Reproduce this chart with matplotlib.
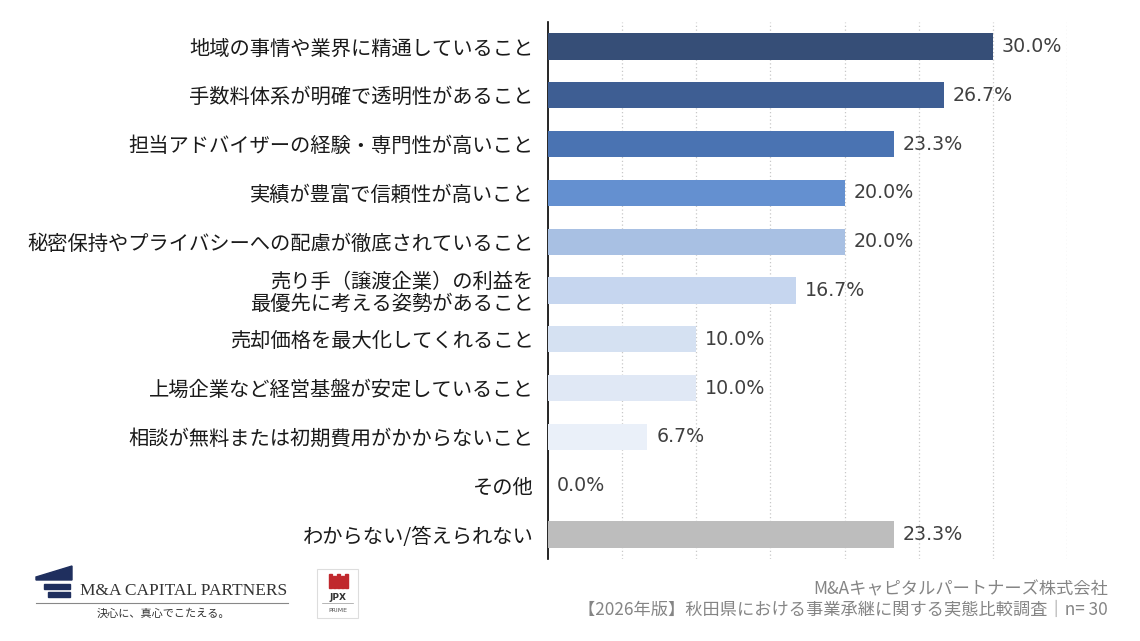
import matplotlib.pyplot as plt
import matplotlib.patches as mpatches
import numpy as np

plt.rcParams["font.family"] = ["Noto Sans CJK JP", "DejaVu Sans"]

# ── Data ───────────────────────────────────────────────────────────────────
categories = [
    "地域の事情や業界に精通していること",
    "手数料体系が明確で透明性があること",
    "担当アドバイザーの経験・専門性が高いこと",
    "実績が豊富で信頼性が高いこと",
    "秘密保持やプライバシーへの配慮が徹底されていること",
    "売り手（譲渡企業）の利益を\n最優先に考える姿勢があること",
    "売却価格を最大化してくれること",
    "上場企業など経営基盤が安定していること",
    "相談が無料または初期費用がかからないこと",
    "その他",
    "わからない/答えられない",
]
values = [30.0, 26.7, 23.3, 20.0, 20.0, 16.7, 10.0, 10.0, 6.7, 0.0, 23.3]
bar_colors = ["#364E77", "#3E5E93", "#4A73B2", "#6490D0", "#A8C0E3",
              "#C6D6EF", "#D5E1F2", "#E0E8F5", "#EAF0F9", "#F0F4FA", "#BDBDBD"]

footer_lines = ["M&Aキャピタルパートナーズ株式会社",
                "【2026年版】秋田県における事業承継に関する実態比較調査｜n= 30"]

# ── Figure ─────────────────────────────────────────────────────────────────
fig = plt.figure(figsize=(11.4, 6.41), dpi=100)
ax = fig.add_axes([548 / 1140, 1 - 559 / 641, 519 / 1140, 537 / 641])

y = np.arange(len(categories))
ax.barh(y, values, height=0.54, color=bar_colors, zorder=3)

for yi, v in zip(y, values):
    ax.text(v + 0.6, yi, f"{v:.1f}%", va="center", ha="left",
            fontsize=13.7, color="#404040", zorder=4, family="DejaVu Sans")

ax.set_xlim(0, 35)
ax.set_ylim(len(categories) - 0.5, -0.5)
ax.set_xticks(np.arange(5, 36, 5))
ax.xaxis.grid(True, linestyle=(0, (1, 2)), color="#C8C8C8", linewidth=0.9)
ax.tick_params(axis="x", length=0, labelbottom=False)
ax.tick_params(axis="y", length=0, pad=10.5)
ax.set_yticks(y)
ax.set_yticklabels(categories, fontsize=14.6, color="#1A1A1A", linespacing=1.05)
for s in ["top", "right", "bottom"]:
    ax.spines[s].set_visible(False)
ax.spines["left"].set_color("#000000")
ax.spines["left"].set_linewidth(1.2)

# ── Footer text ────────────────────────────────────────────────────────────
fig.text(1108 / 1140, 1 - 589 / 641, footer_lines[0], ha="right", va="center",
         fontsize=12.4, color="#858585")
fig.text(1108 / 1140, 1 - 610 / 641, footer_lines[1], ha="right", va="center",
         fontsize=12.4, color="#858585")

# ── Logo (approximation) ───────────────────────────────────────────────────
lg = fig.add_axes([0, 0, 1, 1], zorder=-1)
lg.set_xlim(0, 1140)
lg.set_ylim(641, 0)
lg.axis("off")
navy = "#1F2F5E"
lg.add_patch(mpatches.Polygon([[36, 577], [72, 566], [72, 580], [36, 580]],
                              closed=True, color=navy))
lg.add_patch(mpatches.Rectangle((44, 584), 26, 5, color=navy))
lg.add_patch(mpatches.Rectangle((48, 592), 22, 5, color=navy))
lg.text(80, 591, "M&A CAPITAL PARTNERS", fontsize=12.5, color="#333333",
        family="Liberation Serif", va="center", ha="left")
lg.plot([36, 288], [603, 603], color="#888888", linewidth=0.8)
lg.text(97, 614, "決心に、真心でこたえる。", fontsize=8, color="#333333",
        va="center", ha="left")
lg.add_patch(mpatches.Rectangle((317, 569), 41, 49, fill=False,
                                edgecolor="#DDDDDD", linewidth=0.8))
for i, xs in enumerate([329, 333, 337, 341, 345]):
    lg.add_patch(mpatches.Rectangle((xs, 574 + (i % 2) * 2), 2.5, 14 - (i % 2) * 2,
                                    color="#C0282D"))
lg.text(337.5, 597, "JPX", fontsize=6.5, fontweight="bold", color="#333333",
        ha="center", va="center", family="DejaVu Sans")
lg.plot([322, 353], [603, 603], color="#999999", linewidth=0.5)
lg.text(337.5, 610, "PRIME", fontsize=4.5, color="#555555",
        ha="center", va="center", family="DejaVu Sans")

fig.savefig("out.png", dpi=100)
